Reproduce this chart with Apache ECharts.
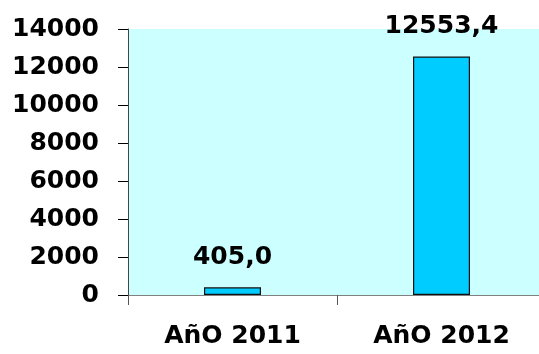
<!DOCTYPE html>
<html>
<head>
<meta charset="utf-8">
<script src="https://cdn.jsdelivr.net/npm/echarts@6/dist/echarts.min.js"></script>
<style>
  html, body { margin: 0; padding: 0; background: #fff; }
  #chart { width: 539px; height: 354px; }
</style>
</head>
<body>
<div id="chart"></div>
<script>
var categories = ['AñO 2011', 'AñO 2012'];
var values = [405.0, 12553.4];
var yTicks = { min: 0, max: 14000, interval: 2000 };

var chart = echarts.init(document.getElementById('chart'));
var font = 'DejaVu Sans';

var options = {
    animation: false,
    grid: {
        left: 128, top: 29, width: 418, bottom: 59,
        outerBoundsMode: 'none',
        containLabel: false,
        show: true,
        backgroundColor: '#ccffff',
        borderWidth: 0
    },
    xAxis: {
        type: 'category',
        data: categories,
        boundaryGap: true,
        axisLine: { lineStyle: { color: '#808080', width: 1 } },
        axisTick: { show: true, length: 10, lineStyle: { color: '#555' } },
        axisLabel: {
            margin: 29,
            color: '#000',
            fontFamily: font,
            fontWeight: 'bold',
            fontSize: 25
        }
    },
    yAxis: {
        type: 'value',
        min: yTicks.min,
        max: yTicks.max,
        interval: yTicks.interval,
        splitLine: { show: false },
        axisLine: { show: true, lineStyle: { color: '#444', width: 1 } },
        axisTick: { show: true, length: 10, lineStyle: { color: '#000' } },
        axisLabel: {
            margin: 29,
            color: '#000',
            fontFamily: font,
            fontWeight: 'bold',
            fontSize: 25,
            padding: [0, 0, 10, 0],
            formatter: function (v) { return String(v); }
        }
    },
    series: [{
        type: 'bar',
        data: values,
        barWidth: 57,
        itemStyle: {
            color: '#00ccff',
            borderColor: '#111',
            borderWidth: 1.2
        },
        label: {
            show: true,
            position: 'top',
            distance: 17,
            color: '#000',
            fontFamily: font,
            fontWeight: 'bold',
            fontSize: 25,
            formatter: function (p) {
                return p.value.toFixed(1).replace('.', ',');
            }
        }
    }]
};

chart.setOption(options);
</script>
</body>
</html>
